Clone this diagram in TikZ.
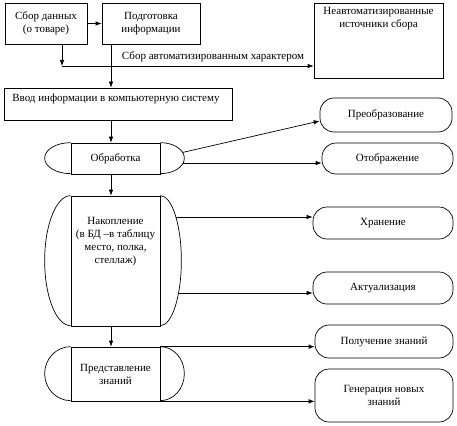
\documentclass[tikz,border=0pt]{standalone}
\usepackage{fontspec}
\setmainfont{Liberation Serif}
\usetikzlibrary{arrows.meta, positioning, calc}

\begin{document}
\begin{tikzpicture}[x=1pt, y=-1pt, line width=0.7pt,
  every node/.style={font=\fontsize{11}{13}\selectfont, align=center},
  box/.style={draw, rectangle, inner sep=2pt},
  proc/.style={draw, rectangle, minimum width=89pt, inner sep=2pt},
  outp/.style={draw, rectangle, rounded corners=14pt, inner sep=2pt},
  arr/.style={-{Latex[length=6pt,width=4.5pt]}}]
  \useasboundingbox (0,0) rectangle (457,425);

  % sources
  \node[box, minimum width=82pt, minimum height=41pt] (sbor) at (46,23.5) {Сбор данных\\(о товаре)};
  \node[box, minimum width=98pt, minimum height=41pt] (podg) at (151,23.5) {Подготовка\\информации};
  \node[box, minimum width=129pt, minimum height=75pt] (neavt) at (378.5,40.5) {};
  \node[below=1pt of neavt.north] (neavtt) {Неавтоматизированные\\источники сбора};
  \draw[arr] (sbor.east) -- (podg.west);

  \coordinate (spine) at (111,0);
  \coordinate (j1) at (62,66);
  \draw[arr] (j1 |- sbor.south) -- (j1);
  \draw[arr] (j1) -- node[above, pos=0.6] (avt) {Сбор автоматизированным характером} (j1 -| neavt.west);

  \node[box, minimum width=228pt, minimum height=32pt] (vvod) at (118,104) {};
  \node[below right=3pt and 5pt of vvod.north west] (vvodt) {Ввод информации в компьютерную систему};
  \draw[arr] (spine |- podg.south) -- (spine |- vvod.north);

  % processing chain
  \node[proc, minimum height=31pt] (obr) at (115.5,158.5) {Обработка};
  \draw (obr.north west) arc[start angle=90, end angle=270, x radius=26pt, y radius=15.5pt];
  \draw (obr.north east) arc[start angle=90, end angle=-90, x radius=24pt, y radius=15.5pt];

  \node[proc, minimum height=130pt] (nak) at (115.5,261) {};
  \draw (nak.north west) arc[start angle=90, end angle=270, x radius=26pt, y radius=65pt];
  \draw (nak.north east) arc[start angle=90, end angle=-90, x radius=21pt, y radius=65pt];
  \node[below=18pt of nak.north] (nakt) {Накопление\\(в БД –в таблицу\\место, полка,\\стеллаж)};

  \node[proc, minimum height=54pt] (pred) at (115.5,374) {Представление\\знаний};
  \draw (pred.north west) arc[start angle=90, end angle=270, x radius=26pt, y radius=27pt];
  \draw (pred.north east) arc[start angle=90, end angle=-90, x radius=24pt, y radius=27pt];

  \draw[arr] (spine |- vvod.south) -- (spine |- obr.north);
  \draw[arr] (spine |- obr.south) -- (spine |- nak.north);
  \draw[arr] (spine |- nak.south) -- (spine |- pred.north);

  % results
  \node[outp, minimum width=132pt, minimum height=34pt] (preob) at (386,115) {Преобразование};
  \node[outp, minimum width=131pt, minimum height=31pt] (otobr) at (387.5,158.5) {Отображение};
  \node[outp, minimum width=140pt, minimum height=32pt] (hran) at (383,223) {Хранение};
  \node[outp, minimum width=140pt, minimum height=32pt] (aktual) at (383,288) {Актуализация};
  \node[outp, minimum width=138pt, minimum height=33pt] (poluch) at (384,341.5) {Получение знаний};
  \node[outp, minimum width=138pt, minimum height=53pt] (gener) at (384,395.5) {Генерация новых\\знаний};

  \draw[arr] ([shift={(22pt,6pt)}]obr.east) -- ([yshift=-6pt]preob.west);
  \draw[arr] ([shift={(23pt,-4.5pt)}]obr.east) -- ([yshift=-4.5pt]otobr.west);
  \draw[arr] ([shift={(16pt,44pt)}]nak.east) -- ([yshift=6pt]hran.west);
  \draw[arr] ([shift={(18pt,-32pt)}]nak.east) -- ([yshift=-5pt]aktual.west);
  \draw[arr] (pred.north east) -- (pred.north east -| poluch.west);
  \draw[arr] (pred.south east) -- (pred.south east -| gener.west);
\end{tikzpicture}
\end{document}
